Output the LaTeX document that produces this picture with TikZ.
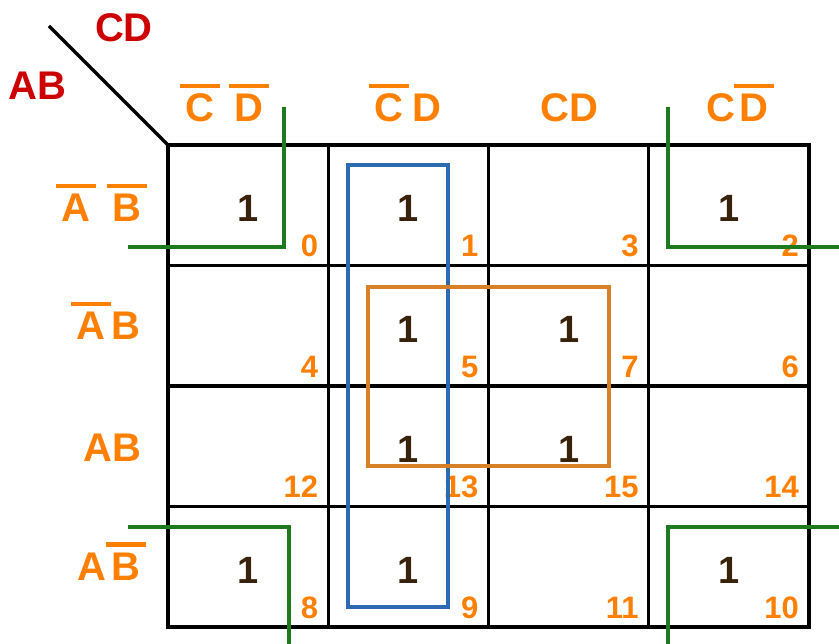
\documentclass[tikz,border=0pt]{standalone}
\usepackage{fontspec}
\setmainfont{Liberation Sans}
\definecolor{korange}{RGB}{255,128,0}
\definecolor{kred}{RGB}{204,0,0}
\definecolor{kgreen}{RGB}{30,122,30}
\definecolor{kblue}{RGB}{44,106,178}
\definecolor{kloop}{RGB}{216,128,38}
\definecolor{kone}{RGB}{56,34,12}
\newcommand\ob[1]{\ooalign{#1\cr\hidewidth\rule[33.5pt]{40pt}{4.5pt}\hidewidth\cr}}
\begin{document}
\begin{tikzpicture}[x=1pt,y=-1pt,
  cell/.style={draw=black,line width=3.3pt,minimum width=160.25pt,minimum height=120.5pt,inner sep=0pt,outer sep=0pt},
  hdr/.style={text=korange,font=\bfseries\fontsize{40pt}{40pt}\selectfont,inner sep=0pt,anchor=base},
  redlab/.style={text=kred,font=\bfseries\fontsize{40pt}{40pt}\selectfont,inner sep=0pt,anchor=base},
  onedig/.style={text=kone,font=\bfseries\fontsize{38pt}{38pt}\selectfont,inner sep=0pt},
  idx/.style={text=korange,font=\bfseries\fontsize{31pt}{31pt}\selectfont,inner sep=0pt,anchor=base east},
  grp/.style={line width=3.4pt},
]
\useasboundingbox (0,0) rectangle (839,644);

% cells
\foreach \r in {0,...,3}{
  \foreach \c in {0,...,3}{
    \node[cell] (k\r\c) at ({168+160.25*(\c+0.5)},{145+120.5*(\r+0.5)}) {};
  }
}

% diagonal and corner labels
\coordinate (dstart) at (49,26);
\draw[line width=3.2pt] (dstart) -- (k00.north west);
\node[redlab] (lcd) at (124,42) {CD};
\node[redlab] (lab) at (37.5,100) {AB};

% column headers
\node[hdr] (h0) at (224.5,122) {\ob{C}\hspace{20pt}\ob{D}};
\node[hdr] (h1) at (408,122) {\ob{C}\hspace{9pt}D};
\node[hdr] (h2) at (569.5,122) {CD};
\node[hdr] (h3) at (737.5,122) {C\hspace{5pt}\ob{D}};

% row headers
\node[hdr] (r0) at (101.5,222) {\ob{A}\hspace{22pt}\ob{B}};
\node[hdr] (r1) at (108.5,340) {\ob{A}\hspace{6pt}B};
\node[hdr] (r2) at (112.5,462) {AB};
\node[hdr] (r3) at (109,580) {A\hspace{5pt}\ob{B}};

% cell indices
\foreach \r/\c/\n in {0/0/0,0/1/1,0/2/3,0/3/2,
                      1/0/4,1/1/5,1/2/7,1/3/6,
                      2/0/12,2/1/13,2/2/15,2/3/14,
                      3/0/8,3/1/9,3/2/11,3/3/10}{
  \node[idx] (i\r\c) at ([xshift=-10pt,yshift=8.5pt]k\r\c.south east) {\n};
}

% ones
\foreach \r/\c in {0/0,0/1,0/3,1/1,1/2,2/1,2/2,3/0,3/1,3/3}{
  \node[onedig] (o\r\c) at ([yshift=-3.25pt]k\r\c.center) {1};
}

% groups
\draw[grp,kblue] (348,165) rectangle (448,607);
\draw[grp,kloop] (368,287) rectangle (609,466);
\draw[grp,kgreen] (128,247) -- (284,247) -- (284,107);
\draw[grp,kgreen] (668,107) -- (668,247) -- (839,247);
\draw[grp,kgreen] (128,527) -- (289,527) -- (289,644);
\draw[grp,kgreen] (839,527) -- (668,527) -- (668,644);
\end{tikzpicture}
\end{document}
